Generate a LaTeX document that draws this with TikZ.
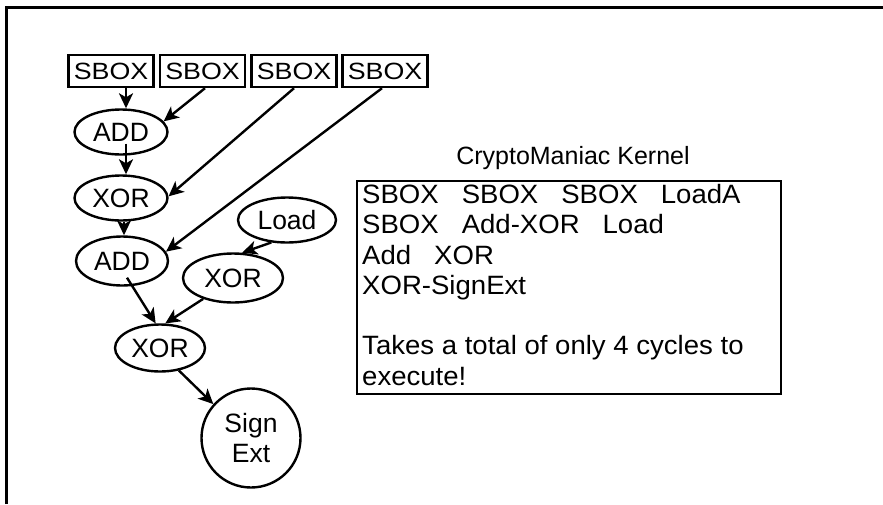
\documentclass[tikz,border=0pt]{standalone}
\usepackage{fontspec}
\setmainfont{Liberation Sans}
\newfontfamily\sbfont{Liberation Sans}[FakeStretch=1.14]
\newfontfamily\kfont{Liberation Sans}[FakeStretch=1.04]
\usetikzlibrary{shapes.geometric,arrows.meta}
\begin{document}
\begin{tikzpicture}[x=1pt,y=-1pt,
  sbox/.style={draw,line width=2.4pt,rectangle,minimum width=85pt,minimum height=32pt,inner sep=0pt,font=\sbfont\fontsize{23.5}{26}\selectfont},
  ell/.style={draw,line width=2.4pt,ellipse,inner sep=0pt,font=\fontsize{26.5}{30}\selectfont},
  arr/.style={line width=2.4pt,-{Stealth[length=15pt,width=14pt,inset=4pt]}}]
\useasboundingbox (0,0) rectangle (883,504);
\fill[white] (0,0) rectangle (883,504);
\draw[line width=3pt] (6,504) -- (6,7) -- (890,7);
% SBOX row
\node[sbox] (sb1) at (111,71) {SBOX};
\node[sbox] (sb2) at (202.5,71) {SBOX};
\node[sbox] (sb3) at (294,71) {SBOX};
\node[sbox] (sb4) at (385,71) {SBOX};
% ellipses
\node[ell,minimum width=93pt,minimum height=45pt] (add1) at (121,132) {ADD};
\node[ell,minimum width=93pt,minimum height=45pt] (xor1) at (121,198) {XOR};
\node[ell,minimum width=92pt,minimum height=49pt] (add2) at (122,261) {ADD};
\node[ell,minimum width=98pt,minimum height=45pt] (load) at (287,220) {Load};
\node[ell,minimum width=100pt,minimum height=49pt] (xor2) at (233,278) {XOR};
\node[ell,minimum width=90pt,minimum height=47pt] (xor3) at (160,348) {XOR};
\node[draw,line width=2.4pt,circle,minimum size=99pt,inner sep=0pt,align=center,font=\fontsize{26.5}{30}\selectfont] (se) at (251,438) {Sign\\Ext};
% arrows
\draw[arr] ([xshift=15pt]sb1.south) -- ([xshift=5pt]add1.north);
\draw[arr] ([xshift=2.5pt]sb2.south) -- (add1.14);
\draw[arr] (sb3.south) -- (xor1.2);
\draw[arr] ([xshift=-3pt]sb4.south) -- (add2.12);
\draw[arr] ([xshift=5pt,yshift=12pt]add1.south) -- ([xshift=5pt]xor1.north);
\draw[arr] ([xshift=3pt]xor1.south) -- ([xshift=2pt]add2.north);
\draw[arr] ([xshift=5pt,yshift=9pt]add2.south) -- (xor3.100);
\draw[arr] (xor2.215) -- (xor3.78);
\draw[arr] (load.235) -- (xor2.70);
\draw[arr] (xor3.-50) -- (se.138);
% kernel box
\node[font=\fontsize{25}{30}\selectfont] (title) at (573,158) {CryptoManiac Kernel};
\node[draw,line width=2.4pt,rectangle,minimum width=424pt,minimum height=213pt,anchor=north west,inner sep=0pt] (kbox) at (356,180) {};
\node[anchor=north west,inner sep=0pt,align=left,font=\kfont\fontsize{26.5}{30.3}\selectfont] (ktext) at (362,184)
 {SBOX\ \ \ SBOX\ \ \ SBOX\ \ \ LoadA\\
  SBOX\ \ \ Add-XOR\ \ \ Load\\
  Add\ \ \ XOR\\
  XOR-SignExt\\
  \mbox{}\\
  Takes a total of only 4 cycles to\\
  execute!};
\end{tikzpicture}
\end{document}
